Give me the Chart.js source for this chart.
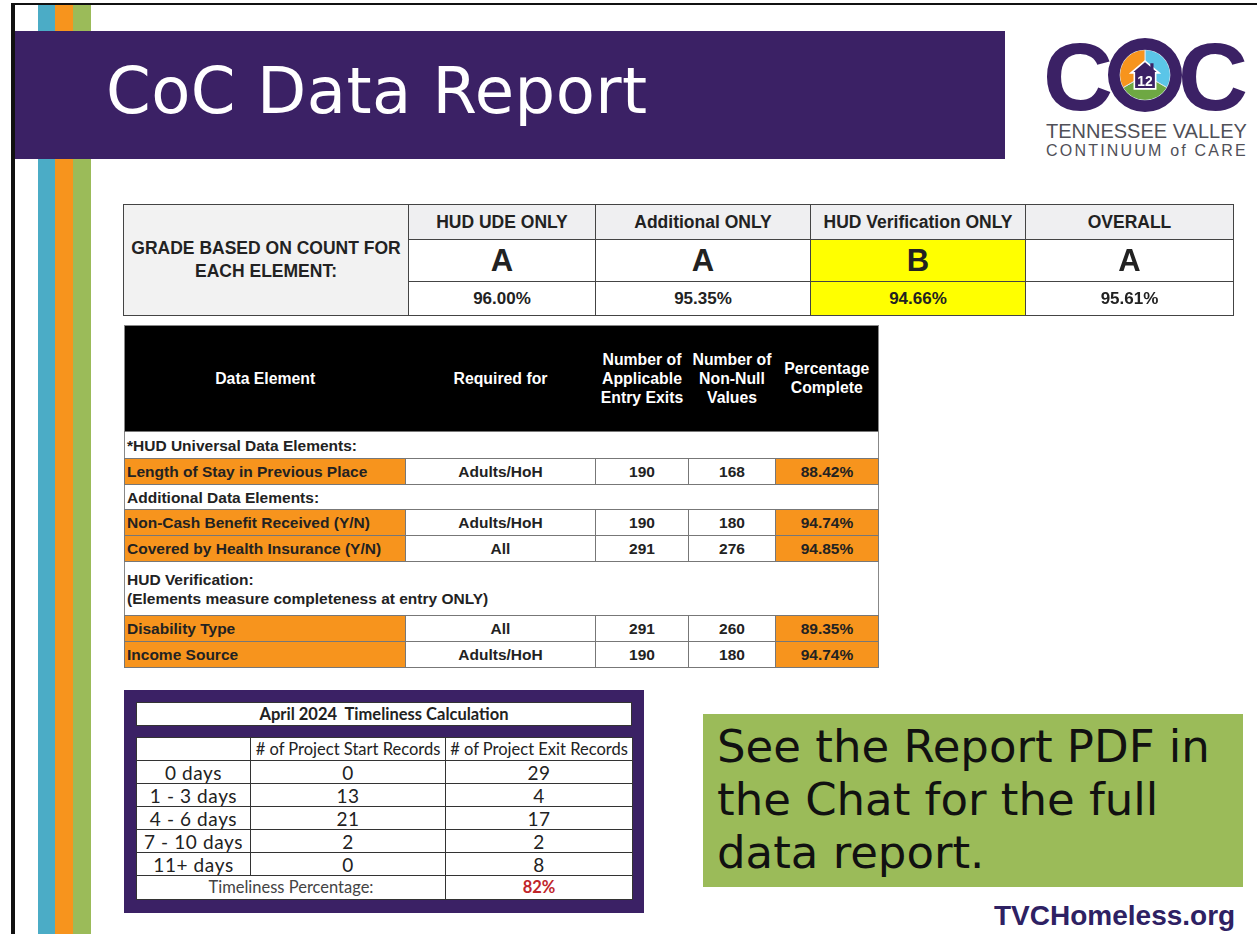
<!DOCTYPE html>
<html>
<head>
<meta charset="utf-8">
<script src="https://cdn.jsdelivr.net/npm/chart.js@4.4.1/dist/chart.umd.min.js"></script>
<style>
  body { margin: 0; width: 1257px; height: 934px; overflow: hidden; background: #fff; position: relative; font-family: "Liberation Sans", Arial, sans-serif; }
  .abs { position: absolute; }
  .stripe { position: absolute; top: 5px; bottom: 0; width: 18px; }
  table { border-collapse: collapse; table-layout: fixed; position: absolute; }
  td, th { padding: 0; overflow: hidden; white-space: nowrap; }
  #gradeTable td { border: 1.5px solid #444; text-align: center; color: #222; font-weight: bold; }
  #gradeTable .head { background: #efeff1; font-size: 17.5px; }
  #gradeTable .grade { font-size: 31px; }
  #gradeTable .pct { font-size: 17px; }
  #gradeTable .label { background: #f2f2f2; font-size: 17.5px; line-height: 23px; white-space: normal; }
  #elementTable { border: 1px solid #888; }
  #elementTable th { background: #000; color: #fff; font-size: 15.8px; line-height: 19px; font-weight: bold; }
  #elementTable td { font-size: 15.5px; font-weight: bold; color: #222; text-align: center; border: 1px solid #777; }
  #elementTable td.name { text-align: left; padding-left: 2px; background: #f7941d; }
  #elementTable td.done { background: #f7941d; }
  #elementTable td.section { text-align: left; padding-left: 2px; border-left: 1px solid #888; border-right: 1px solid #888; line-height: 19px; white-space: normal; }
  #timeTable td { border: 1px solid #333; text-align: center; font-family: Lato, "Open Sans", sans-serif; color: #222; line-height: 19px; }
  #timeTable .th { font-size: 16.5px; }
  #timeTable .v { font-size: 19px; letter-spacing: 0.6px; }
</style>
</head>
<body>
<div class="abs" style="left:11px;top:3px;width:1246px;height:2px;background:#111;"></div>
<div class="abs" style="left:11px;top:3px;width:4px;height:931px;background:#111;"></div>
<div class="stripe" style="left:38px;background:#4bacc6;"></div>
<div class="stripe" style="left:55px;background:#f7941d;"></div>
<div class="stripe" style="left:73px;background:#9bbb59;"></div>

<div class="abs" style="left:15px;top:31px;width:990px;height:128px;background:#3b2165;"></div>
<div class="abs" style="left:106px;top:51px;font-family:'DejaVu Sans',sans-serif;font-size:64px;color:#fff;line-height:80px;letter-spacing:0.5px;">CoC Data Report</div>

<!-- logo: the two C letters and the ring are drawn on one canvas -->
<div class="abs" style="left:1040px;top:34px;width:212px;height:82px;"><canvas id="logoRing" width="212" height="82"></canvas></div>
<svg class="abs" style="left:1129px;top:59px;" width="32" height="32" viewBox="0 0 30 30">
  <polygon points="15,2 28,13 25,13 25,28 5,28 5,13 2,13" fill="#3b2165" stroke="#fff" stroke-width="1.5"/>
  <rect x="20" y="4" width="3" height="6" fill="#3b2165"/>
  <text x="15" y="25" text-anchor="middle" font-family="Liberation Sans" font-weight="bold" font-size="13" fill="#fff">12</text>
</svg>
<div class="abs" style="left:1046px;top:120px;font-family:'Liberation Sans',Arial,sans-serif;font-size:20px;line-height:22px;color:#505058;">TENNESSEE VALLEY</div>
<div class="abs" style="left:1046px;top:142px;font-family:'Liberation Sans',Arial,sans-serif;font-size:16px;line-height:18px;color:#505058;letter-spacing:2.2px;">CONTINUUM of CARE</div>

<table id="gradeTable" style="left:123px;top:204px;width:1110px;"></table>
<table id="elementTable" style="left:124px;top:325px;width:754px;"></table>

<div class="abs" style="left:124px;top:690px;width:520px;height:223px;background:#3b2165;"></div>
<div class="abs" style="left:136px;top:702px;width:494px;height:22px;background:#fff;border:1px solid #333;text-align:center;font-family:Lato,sans-serif;font-weight:bold;font-size:16.5px;line-height:22px;color:#222;">April 2024&nbsp; Timeliness Calculation</div>
<table id="timeTable" style="left:136px;top:737px;width:496px;background:#fff;"></table>

<div class="abs" style="left:703px;top:714px;width:540px;height:173px;background:#9bbb59;"></div>
<div class="abs" style="left:717px;top:720px;font-family:'DejaVu Sans',sans-serif;font-size:45px;line-height:53px;color:#111;">See the Report PDF in<br>the Chat for the full<br>data report.</div>
<div class="abs" style="left:994px;top:899px;font-family:'Liberation Sans',Arial,sans-serif;font-weight:bold;font-size:28px;line-height:34px;color:#2e2163;">TVCHomeless.org</div>

<script>
const gradeCategories = ["HUD UDE ONLY", "Additional ONLY", "HUD Verification ONLY", "OVERALL"];
const gradeLetters = ["A", "A", "B", "A"];
const gradePercents = ["96.00%", "95.35%", "94.66%", "95.61%"];

const sectionLabels = ["*HUD Universal Data Elements:", "Additional Data Elements:", "HUD Verification:<br>(Elements measure completeness at entry ONLY)"];
const elementNames = ["Length of Stay in Previous Place", "Non-Cash Benefit Received (Y/N)", "Covered by Health Insurance (Y/N)", "Disability Type", "Income Source"];
const elementSection = [0, 1, 1, 2, 2];
const elementRequired = ["Adults/HoH", "Adults/HoH", "All", "All", "Adults/HoH"];
const applicableCounts = [190, 190, 291, 291, 190];
const nonNullCounts = [168, 180, 276, 260, 180];
const percentComplete = ["88.42%", "94.74%", "94.85%", "89.35%", "94.74%"];

const dayBuckets = ["0 days", "1 - 3 days", "4 - 6 days", "7 - 10 days", "11+ days"];
const startRecords = [0, 13, 21, 2, 0];
const exitRecords = [29, 4, 17, 2, 8];
const timelinessPercent = "82%";

const logoLabels = ["Blue", "Green", "Orange"];
const logoValues = [1, 1, 1];

function renderGradeTable() {
  const t = document.getElementById("gradeTable");
  const widths = [285, 187, 215, 215, 208];
  let html = "<colgroup>" + widths.map((w) => `<col style="width:${w}px">`).join("") + "</colgroup>";
  html += `<tr style="height:35px"><td class="label" rowspan="3">GRADE BASED ON COUNT FOR<br>EACH ELEMENT:</td>`;
  html += gradeCategories.map((c) => `<td class="head">${c}</td>`).join("") + "</tr>";
  html += `<tr style="height:42px">` + gradeLetters.map((g) => `<td class="grade" style="background:${g === "A" ? "#fff" : "#ffff00"}">${g}</td>`).join("") + "</tr>";
  html += `<tr style="height:34px">` + gradePercents.map((p, i) => `<td class="pct" style="background:${gradeLetters[i] === "A" ? "#fff" : "#ffff00"}">${p}</td>`).join("") + "</tr>";
  t.innerHTML = html;
}

function renderElementTable() {
  const t = document.getElementById("elementTable");
  const widths = [281, 190, 93, 87, 103];
  let html = "<colgroup>" + widths.map((w) => `<col style="width:${w}px">`).join("") + "</colgroup>";
  html += `<tr style="height:106px"><th>Data Element</th><th>Required for</th><th>Number of<br>Applicable<br>Entry Exits</th><th>Number of<br>Non-Null<br>Values</th><th style="vertical-align:top;padding-top:33px">Percentage<br>Complete</th></tr>`;
  const sectionHeights = [27, 25, 54];
  let current = -1;
  elementNames.forEach((name, i) => {
    if (elementSection[i] !== current) {
      current = elementSection[i];
      html += `<tr style="height:${sectionHeights[current]}px"><td class="section" colspan="5">${sectionLabels[current]}</td></tr>`;
    }
    html += `<tr style="height:26px"><td class="name">${name}</td><td>${elementRequired[i]}</td><td>${applicableCounts[i]}</td><td>${nonNullCounts[i]}</td><td class="done">${percentComplete[i]}</td></tr>`;
  });
  t.innerHTML = html;
}

function renderTimeTable() {
  const t = document.getElementById("timeTable");
  const widths = [114, 195, 187];
  let html = "<colgroup>" + widths.map((w) => `<col style="width:${w}px">`).join("") + "</colgroup>";
  html += `<tr style="height:23px"><td></td><td class="th"># of Project Start Records</td><td class="th"># of Project Exit Records</td></tr>`;
  dayBuckets.forEach((b, i) => {
    html += `<tr style="height:23px"><td class="v">${b}</td><td class="v">${startRecords[i]}</td><td class="v">${exitRecords[i]}</td></tr>`;
  });
  html += `<tr style="height:24px"><td class="th" colspan="2" style="color:#444">Timeliness Percentage:</td><td class="th" style="color:#c0252a;font-weight:bold">${timelinessPercent}</td></tr>`;
  t.innerHTML = html;
}

// draws the two C letters either side of the ring
const logoLetters = {
  id: "logoLetters",
  afterDraw(chart) {
    const ctx = chart.ctx;
    ctx.save();
    ctx.fillStyle = "#3b2165";
    ctx.font = "bold 97px 'Liberation Sans', Arial, sans-serif";
    ctx.textBaseline = "alphabetic";
    ctx.fillText("C", 3, 76);
    ctx.fillText("C", 138, 76);
    ctx.restore();
  },
};

function createLogoRing() {
  new Chart(document.getElementById("logoRing"), {
    type: "doughnut",
    data: {
      labels: logoLabels,
      datasets: [
        { data: [1], backgroundColor: ["#3b2165"], borderWidth: 0, weight: 11 },
        { data: logoValues, backgroundColor: ["#5bc5e8", "#6ea843", "#f7941d"], borderColor: "#d8e4ee", borderWidth: 1, weight: 24 },
      ],
    },
    options: {
      responsive: false,
      animation: false,
      cutout: 0,
      layout: { padding: { left: 68, right: 70, top: 4, bottom: 4 } },
      plugins: { legend: { display: false }, tooltip: { enabled: false } },
    },
    plugins: [logoLetters],
  });
}

renderGradeTable();
renderElementTable();
renderTimeTable();
createLogoRing();
</script>
</body>
</html>
